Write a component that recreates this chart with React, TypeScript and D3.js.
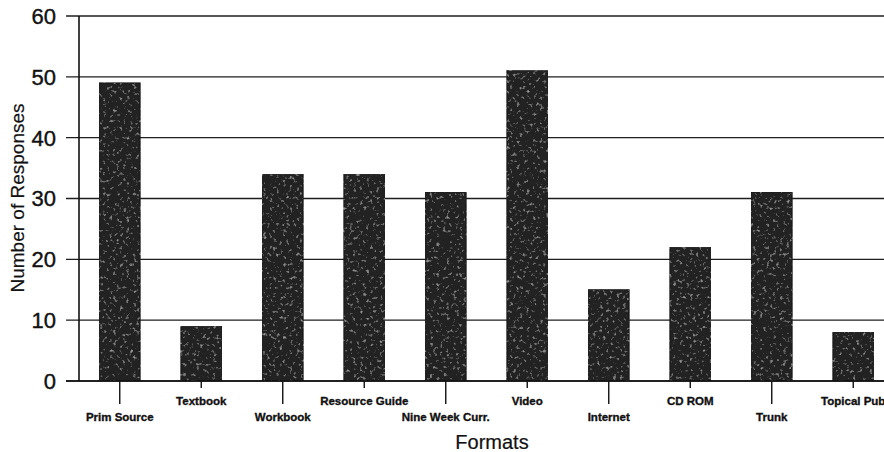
import React from "react";
import * as d3 from "d3";

const categories = [
  "Prim Source",
  "Textbook",
  "Workbook",
  "Resource Guide",
  "Nine Week Curr.",
  "Video",
  "Internet",
  "CD ROM",
  "Trunk",
  "Topical Pub",
];
const responses = [49, 9, 34, 34, 31, 51, 15, 22, 31, 8];
const yTicks = [0, 10, 20, 30, 40, 50, 60];

const W = 884;
const H = 452;
const axisX = 79;
const tickLeft = 66;

export default function App() {
  const x = d3
    .scaleBand<string>()
    .domain(categories)
    .range([axisX, axisX + 815])
    .paddingInner(0.5)
    .paddingOuter(0.25);
  const y = d3.scaleLinear().domain([0, 60]).range([381, 16]);
  const font = "Arial, 'Liberation Sans', Helvetica, sans-serif";

  return (
    <svg
      width={W}
      height={H}
      viewBox={`0 0 ${W} ${H}`}
      style={{ position: "fixed", left: 0, top: 0, background: "#fff" }}
    >
      <defs>
        <filter id="grain" x="0" y="0" width="1" height="1">
          <feTurbulence type="fractalNoise" baseFrequency="0.3" numOctaves="2" seed="7" result="noise" />
          <feColorMatrix
            in="noise"
            type="matrix"
            values="0 0 0 0 1  0 0 0 0 1  0 0 0 0 1  1.1 0 0 0 -0.66"
            result="speck"
          />
          <feComposite in="speck" in2="SourceGraphic" operator="in" result="clipped" />
          <feMerge>
            <feMergeNode in="SourceGraphic" />
            <feMergeNode in="clipped" />
          </feMerge>
        </filter>
      </defs>
      <rect width={W} height={H} fill="#fff" />

      {/* horizontal gridlines with left tick stubs */}
      {yTicks.map((t) => (
        <line
          key={`g${t}`}
          x1={tickLeft}
          x2={W}
          y1={y(t)}
          y2={y(t)}
          stroke="#1e1e1e"
          strokeWidth={1.4}
        />
      ))}

      {/* y tick labels */}
      {yTicks.map((t) => (
        <text
          key={`yl${t}`}
          x={56}
          y={y(t)}
          dy="0.36em"
          textAnchor="end"
          fontFamily={font}
          fontSize={22}
          fill="#111"
          stroke="#111"
          strokeWidth={0.4}
        >
          {t}
        </text>
      ))}

      {/* bars */}
      {categories.map((c, i) => (
        <rect
          key={`b${c}`}
          x={x(c)}
          y={y(responses[i])}
          width={x.bandwidth()}
          height={y(0) - y(responses[i])}
          fill="#232323"
          stroke="#1a1a1a"
          strokeWidth={1}
          filter="url(#grain)"
        />
      ))}

      {/* axes */}
      <line x1={axisX} x2={axisX} y1={y(60)} y2={y(0)} stroke="#111" strokeWidth={1.6} />
      <line x1={tickLeft} x2={W} y1={y(0)} y2={y(0)} stroke="#111" strokeWidth={1.6} />

      {/* category ticks and staggered labels */}
      {categories.map((c, i) => {
        const cx = (x(c) as number) + x.bandwidth() / 2;
        const lower = i % 2 === 0;
        return (
          <g key={`xl${c}`}>
            <line
              x1={cx}
              x2={cx}
              y1={y(0)}
              y2={lower ? 404 : 388}
              stroke="#111"
              strokeWidth={1.4}
            />
            <text
              x={cx}
              y={lower ? 421 : 405}
              textAnchor="middle"
              fontFamily={font}
              fontWeight="bold"
              fontSize={11.5}
              fill="#111"
              stroke="#111"
              strokeWidth={0.35}
            >
              {c}
            </text>
          </g>
        );
      })}

      {/* axis titles */}
      <text
        x={492}
        y={449}
        textAnchor="middle"
        fontFamily={font}
        fontSize={20}
        fill="#111"
        stroke="#111"
        strokeWidth={0.2}
      >
        Formats
      </text>
      <text
        transform={`translate(24, 198) rotate(-90)`}
        textAnchor="middle"
        fontFamily={font}
        fontSize={19}
        fill="#111"
        stroke="#111"
        strokeWidth={0.2}
      >
        Number of Responses
      </text>
    </svg>
  );
}
